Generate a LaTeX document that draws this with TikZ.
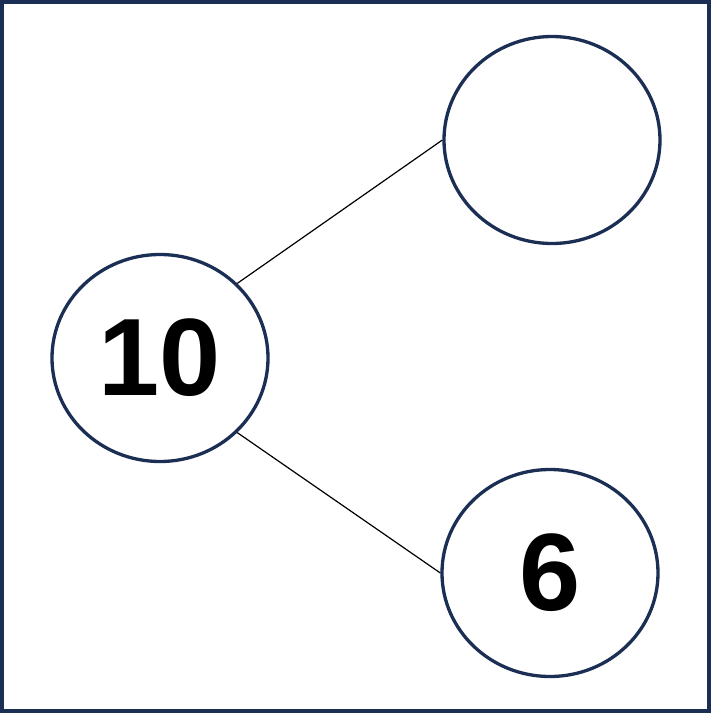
\documentclass[tikz,border=0pt]{standalone}
\usepackage{fontspec}
\setmainfont{Liberation Sans}
\usetikzlibrary{shapes.geometric}
\definecolor{navy}{HTML}{1B2E54}
\tikzset{
  bubble/.style={ellipse,draw=navy,line width=3.3pt,minimum width=216pt,minimum height=207pt,inner sep=0pt,font=\fontsize{110}{110}\selectfont\bfseries},
  link/.style={line width=1.2pt,black}
}
\begin{document}
\begin{tikzpicture}[x=1pt,y=-1pt]
    \draw[navy,line width=4pt,fill=white] (2,2) rectangle (709,711);
    \useasboundingbox (0,0) rectangle (711,713);

    \node[bubble] (n10) at (160,358) {10};
    \node[bubble] (ntop) at (552,140) {};
    \node[bubble] (n6) at (550,573) {6};

    \draw[link] (n10.44) -- (ntop.west);
    \draw[link] (n10.-44) -- (n6.west);
\end{tikzpicture}
\end{document}
